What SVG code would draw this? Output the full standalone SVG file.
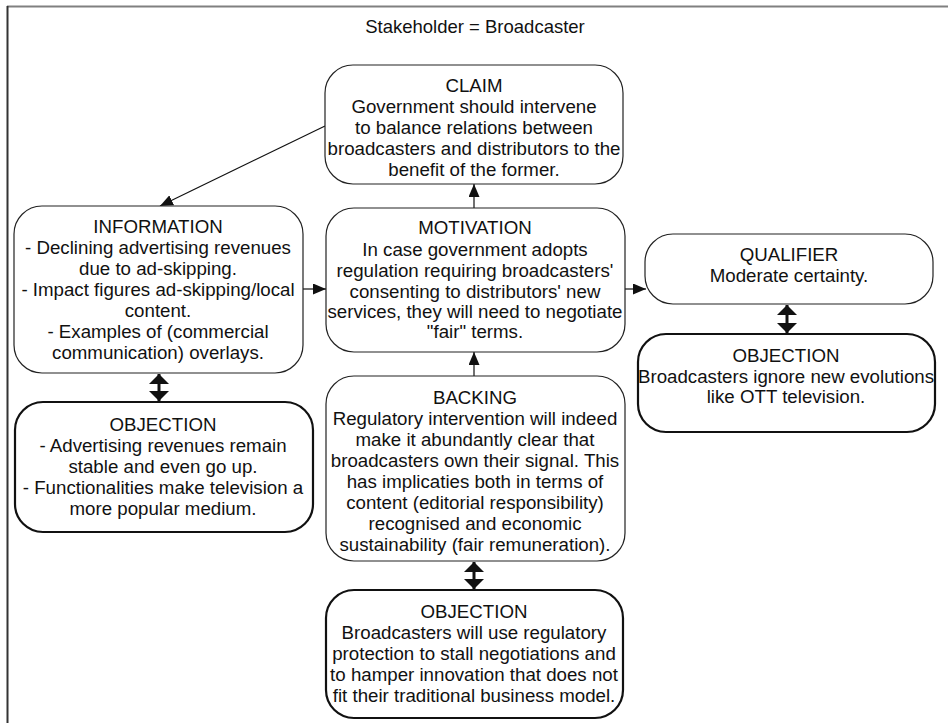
<svg xmlns="http://www.w3.org/2000/svg" width="948" height="723" viewBox="0 0 948 723">
<defs>
<style>
text{font-family:"Liberation Sans",Arial,sans-serif;font-size:18.7px;fill:#111;text-anchor:middle}
.title{font-size:18.5px}
.box{fill:#fff;stroke:#222;stroke-width:1.2}
.obj{fill:#fff;stroke:#111;stroke-width:2.2}
.arr{stroke:#111;stroke-width:1.2;fill:none}
.dbl{stroke:#111;stroke-width:3;fill:none}
</style>
<marker id="ah" viewBox="0 0 13 11" refX="13" refY="5.5" markerWidth="13" markerHeight="11" markerUnits="userSpaceOnUse" orient="auto">
<path d="M0,0 L13,5.5 L0,11 Z" fill="#111"/>
</marker>
<marker id="dh" viewBox="0 0 10 20" refX="10" refY="10" markerWidth="10" markerHeight="20" markerUnits="userSpaceOnUse" orient="auto-start-reverse">
<path d="M0,0 L10,10 L0,20 Z" fill="#111"/>
</marker>
</defs>
<rect width="948" height="723" fill="#fff"/>
<g id="frame">
<line x1="7" y1="6.5" x2="948" y2="6.5" stroke="#808080" stroke-width="2"/>
<line x1="7.5" y1="6" x2="7.5" y2="723" stroke="#333" stroke-width="2"/>
</g>
<text class="title" x="475" y="33">Stakeholder = Broadcaster</text>
<g id="connectors">
<line class="arr" x1="325" y1="126" x2="160" y2="206" marker-end="url(#ah)"/>
<line class="arr" x1="474" y1="208" x2="474" y2="184" marker-end="url(#ah)"/>
<line class="arr" x1="474" y1="376" x2="474" y2="352" marker-end="url(#ah)"/>
<line class="arr" x1="303" y1="289" x2="326" y2="289" marker-end="url(#ah)"/>
<line class="arr" x1="625" y1="289" x2="646" y2="289" marker-end="url(#ah)"/>
<line class="dbl" x1="159" y1="374" x2="159" y2="401" marker-start="url(#dh)" marker-end="url(#dh)"/>
<line class="dbl" x1="474" y1="562" x2="474" y2="589" marker-start="url(#dh)" marker-end="url(#dh)"/>
<line class="dbl" x1="787" y1="305" x2="787" y2="333" marker-start="url(#dh)" marker-end="url(#dh)"/>
</g>
<g id="claim">
<rect class="box" x="325" y="65" width="298" height="119" rx="28"/>
<text x="474" y="92">CLAIM</text>
<text x="474" y="113">Government should intervene</text>
<text x="474" y="134">to balance relations between</text>
<text x="474" y="155">broadcasters and distributors to the</text>
<text x="474" y="176">benefit of the former.</text>
</g>
<g id="information">
<rect class="box" x="14" y="206" width="289" height="167" rx="28"/>
<text x="158" y="233">INFORMATION</text>
<text x="158" y="254">- Declining advertising revenues</text>
<text x="158" y="275">due to ad-skipping.</text>
<text x="158" y="296">- Impact figures ad-skipping/local</text>
<text x="158" y="317">content.</text>
<text x="158" y="338">- Examples of (commercial</text>
<text x="158" y="359">communication) overlays.</text>
</g>
<g id="motivation">
<rect class="box" x="326" y="208" width="299" height="144" rx="28"/>
<text x="475" y="234">MOTIVATION</text>
<text x="475" y="256">In case government adopts</text>
<text x="475" y="277">regulation requiring broadcasters'</text>
<text x="475" y="298">consenting to distributors' new</text>
<text x="475" y="318">services, they will need to negotiate</text>
<text x="475" y="338">"fair" terms.</text>
</g>
<g id="qualifier">
<rect class="box" x="645" y="234" width="288" height="70" rx="28"/>
<text x="789" y="261">QUALIFIER</text>
<text x="789" y="282">Moderate certainty.</text>
</g>
<g id="objection-right">
<rect class="obj" x="638" y="334" width="297" height="98" rx="28"/>
<text x="786" y="362">OBJECTION</text>
<text x="786" y="383">Broadcasters ignore new evolutions</text>
<text x="786" y="403">like OTT television.</text>
</g>
<g id="objection-left">
<rect class="obj" x="15" y="402" width="298" height="130" rx="28"/>
<text x="163" y="431">OBJECTION</text>
<text x="163" y="452">- Advertising revenues remain</text>
<text x="163" y="473">stable and even go up.</text>
<text x="163" y="494">- Functionalities make television a</text>
<text x="163" y="515">more popular medium.</text>
</g>
<g id="backing">
<rect class="box" x="326" y="376" width="299" height="185" rx="28"/>
<text x="475" y="404">BACKING</text>
<text x="475" y="425">Regulatory intervention will indeed</text>
<text x="475" y="446">make it abundantly clear that</text>
<text x="475" y="467">broadcasters own their signal. This</text>
<text x="475" y="488">has implicaties both in terms of</text>
<text x="475" y="509">content (editorial responsibility)</text>
<text x="475" y="530">recognised and economic</text>
<text x="475" y="551">sustainability (fair remuneration).</text>
</g>
<g id="objection-bottom">
<rect class="obj" x="326" y="590" width="297" height="128" rx="28"/>
<text x="474" y="618">OBJECTION</text>
<text x="474" y="639">Broadcasters will use regulatory</text>
<text x="474" y="660">protection to stall negotiations and</text>
<text x="474" y="681">to hamper innovation that does not</text>
<text x="474" y="702">fit their traditional business model.</text>
</g>
</svg>
